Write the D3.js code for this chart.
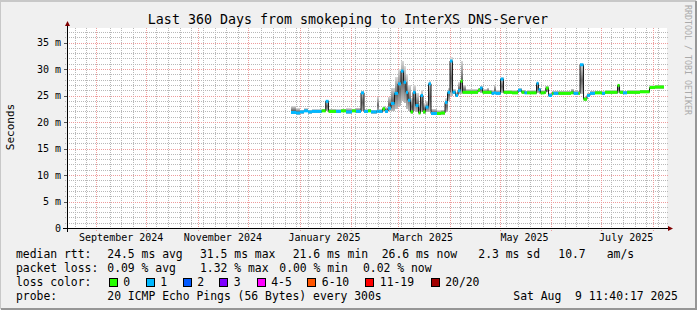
<!DOCTYPE html>
<html>
<head>
<meta charset="utf-8">
<script src="https://cdn.jsdelivr.net/npm/d3@7"></script>
<style>
  body { margin: 0; background: #f0f0f0; }
  svg { display: block; }
  text { font-family: "DejaVu Sans Mono", monospace; fill: #000; white-space: pre; }
</style>
</head>
<body>
<svg id="chart" width="697" height="310"></svg>
<script>
// step start times, days since 2025-01-01 UTC (each value holds until the next one)
const stepDays = [
  -5.1, -2.1, 0.3, 2.7, 5.1, 7.5, 13.3, 15.7, 17.4, 21.9, 24.9, 27.9, 31.5, 33.9, 36.9, 38.7, 41.1, 42.9, 46.2, 47.4, 49.8, 51.3, 53.1,
  54.9, 57.0, 59.1, 60.9, 62.4, 63.9, 65.1, 66.6, 68.1, 69.6, 71.4, 72.6, 74.1, 75.6, 77.4, 78.9, 82.5, 84.9,
  87.3, 88.8, 90.3, 91.8, 93.6, 95.1, 96.6, 97.8, 99.9, 107.1,
  108.3, 109.8, 112.5, 113.7, 115.2, 116.7, 117.9, 120.6, 122.4, 127.5,
  131.1, 133.2, 135.0, 136.5, 142.2, 143.4, 144.6, 147.0, 147.9, 149.4,
  151.5, 152.4, 155.4, 162.9, 164.4, 167.4, 168.3, 170.4, 172.5, 174.3,
  177.3, 181.5, 183.3, 190.8, 192.0, 194.1, 196.5, 204.3, 210.0, 213.3
];
const dataEndDay = 218.7;

// median rtt in ms
const medianMs = [
  21.8, 21.7, 21.9, 22.1, 21.9, 22.0, 22.1, 23.9, 22.0, 22.0, 22.1, 21.9, 22.1, 22.0, 25.5, 22.0, 22.1, 21.9, 22.0, 22.0, 22.5, 22.0, 22.6,
  23.5, 25.4, 27.2, 29.6, 27.5, 25.6, 24.1, 21.9, 25.6, 23.1, 21.7, 25.0, 21.9, 22.8, 27.2, 21.6, 21.6, 21.7,
  23.7, 25.6, 31.5, 25.6, 25.0, 25.9, 27.7, 25.6, 25.6, 26.0,
  26.4, 25.6, 25.6, 25.6, 25.4, 25.5, 25.4, 28.1, 25.6, 25.5,
  26.0, 25.6, 25.5, 25.5, 27.3, 26.1, 25.5, 25.6, 26.4, 25.0,
  25.4, 25.4, 25.4, 25.5, 25.4, 25.4, 30.8, 24.3, 25.0, 25.4,
  25.5, 25.4, 25.6, 26.9, 25.6, 25.5, 25.6, 25.7, 26.5, 26.6
];

// index into lossLabels / lossColors
const lossBucket = [
  1, 1, 1, 1, 1, 1, 0, 1, 0, 1, 0, 1, 0, 1, 1, 1, 0, 1, 1, 1, 0, 1, 1,
  1, 1, 1, 1, 1, 1, 1, 0, 1, 1, 0, 1, 0, 1, 1, 1, 0, 0,
  1, 1, 1, 1, 1, 1, 0, 0, 0, 0,
  1, 0, 0, 0, 1, 1, 1, 1, 0, 0,
  1, 0, 1, 0, 1, 1, 0, 0, 0, 1,
  0, 1, 0, 0, 1, 0, 1, 0, 1, 1,
  0, 1, 0, 0, 0, 1, 0, 0, 0, 0
];

// spread of the 20 pings (smoke), ms
const smokeLo = [
  21.5, 21.4, 21.6, 21.8, 21.6, 21.7, 21.8, 22.0, 21.7, 21.7, 21.8, 21.6, 21.8, 21.7, 22.0, 21.7, 21.8, 21.6, 21.8, 21.7, 22.0, 21.7, 22.0,
  22.0, 22.5, 23.0, 24.0, 23.5, 22.5, 22.0, 21.6, 22.0, 21.8, 21.5, 21.8, 21.6, 21.8, 22.0, 21.3, 21.3, 21.4,
  21.8, 24.0, 25.0, 25.2, 24.7, 25.2, 25.3, 25.3, 25.3, 25.6,
  25.5, 25.3, 25.3, 25.3, 25.1, 25.2, 25.1, 25.4, 25.3, 25.2,
  25.6, 25.3, 25.2, 25.2, 25.4, 25.3, 25.2, 25.3, 25.6, 24.7,
  25.1, 25.1, 25.1, 25.2, 25.1, 25.1, 25.3, 24.0, 24.7, 25.1,
  25.2, 25.1, 25.3, 25.5, 25.3, 25.2, 25.3, 25.4, 26.2, 26.3
];
const smokeHi = [
  23.0, 22.6, 22.3, 22.6, 22.3, 22.4, 22.5, 24.1, 22.5, 22.4, 22.5, 22.6, 22.5, 22.7, 25.8, 22.4, 22.5, 22.3, 24.8, 22.4, 23.0, 22.8, 24.8,
  26.5, 28.5, 30.0, 31.6, 30.5, 29.0, 27.0, 24.5, 27.0, 25.5, 23.5, 26.0, 23.5, 24.0, 27.8, 22.5, 22.2, 22.3,
  24.5, 26.5, 32.2, 26.2, 25.6, 27.5, 31.6, 27.0, 26.2, 26.4,
  26.8, 26.2, 26.5, 26.1, 26.0, 27.0, 26.0, 28.4, 26.0, 26.0,
  26.4, 26.1, 25.9, 26.0, 27.6, 26.5, 26.0, 26.8, 26.8, 25.5,
  25.9, 25.9, 25.9, 26.3, 25.9, 25.9, 31.0, 24.8, 25.5, 25.9,
  25.9, 25.8, 26.0, 27.2, 26.0, 25.9, 26.0, 26.1, 26.9, 27.0
];

const lossLabels = ['0', '1', '2', '3', '4-5', '6-10', '11-19', '20/20'];
const lossColors = ['#26ff00', '#00b8ff', '#0059ff', '#7e00ff', '#ff00ff', '#ff5500', '#ff0000', '#a10000'];

const yTicks = [0, 5, 10, 15, 20, 25, 30, 35];
const yTickLabels = ['0', '5 m', '10 m', '15 m', '20 m', '25 m', '30 m', '35 m'];
const monthLabels = ['September 2024', 'November 2024', 'January 2025', 'March 2025', 'May 2025', 'July 2025'];

const title = 'Last 360 Days from smokeping to InterXS DNS-Server';
const rttStats = ['24.5 ms avg', '31.5 ms max', '21.6 ms min', '26.6 ms now', '2.3 ms sd', '10.7', 'am/s'];
const lossStats = ['0.09 % avg', '1.32 % max', '0.00 % min', '0.02 % now'];
const probeText = '20 ICMP Echo Pings (56 Bytes) every 300s';
const stampText = 'Sat Aug  9 11:40:17 2025';

// ---- layout ----
const W = 697, H = 310;
const X0 = 67, X1 = 667, Y0 = 228, YTOP = 28;
const graphEnd = new Date(Date.UTC(2025, 7, 9, 11, 40, 17));
const graphStart = d3.utcDay.offset(graphEnd, -360);
const dayZero = Date.UTC(2025, 0, 1);
const toDate = d => new Date(dayZero + d * 864e5);

const svg = d3.select('#chart');

const x = d3.scaleUtc().domain([graphStart, graphEnd]).range([X0, X1]);
const y = d3.scaleLinear().domain([0, 35]).range([Y0, 42.5]);
const px = v => Math.round(v) + 0.5; // crisp 1px lines

// frame
svg.append('rect').attr('width', W).attr('height', H).attr('fill', '#f0f0f0');
svg.append('path').attr('d', `M0,${H - 1}V1H${W - 1}`).attr('stroke', '#c8c8c8').attr('stroke-width', 2).attr('fill', 'none');
svg.append('path').attr('d', `M1,${H - 1}H${W - 1}V1`).attr('stroke', '#969696').attr('stroke-width', 2).attr('fill', 'none');
svg.append('rect').attr('x', X0).attr('y', YTOP).attr('width', X1 - X0).attr('height', Y0 - YTOP).attr('fill', '#fff');

// grid
const grid = svg.append('g').attr('shape-rendering', 'crispEdges').attr('fill', 'none');
const minorColor = '#b8b8b8', majorColor = '#ee9c9c';

d3.range(1, 38).filter(v => v % 5 !== 0).forEach(v => {
  grid.append('line').attr('x1', X0 - 2).attr('x2', X1 + 1).attr('y1', px(y(v))).attr('y2', px(y(v)))
    .attr('stroke', minorColor).attr('stroke-dasharray', '1,1');
});
const monthStarts = d3.utcMonth.range(d3.utcMonth.ceil(graphStart), graphEnd);
const weekStarts = d3.utcMonday.range(graphStart, graphEnd)
  .filter(w => !monthStarts.some(m => Math.abs(x(m) - x(w)) < 2));
weekStarts.forEach(w => {
  grid.append('line').attr('x1', px(x(w))).attr('x2', px(x(w))).attr('y1', YTOP).attr('y2', Y0 + 2)
    .attr('stroke', minorColor).attr('stroke-dasharray', '1,1');
});
yTicks.filter(v => v > 0).forEach(v => {
  grid.append('line').attr('x1', X0 - 2).attr('x2', X1 + 1).attr('y1', px(y(v))).attr('y2', px(y(v)))
    .attr('stroke', majorColor).attr('stroke-dasharray', '1,1');
  grid.append('line').attr('x1', X0 - 3).attr('x2', X0).attr('y1', px(y(v))).attr('y2', px(y(v))).attr('stroke', '#555');
});
monthStarts.forEach(m => {
  grid.append('line').attr('x1', px(x(m))).attr('x2', px(x(m))).attr('y1', YTOP).attr('y2', Y0 + 3)
    .attr('stroke', majorColor).attr('stroke-dasharray', '1,1');
});

// smoke
const defs = svg.append('defs');
const grad = defs.append('linearGradient').attr('id', 'smoke').attr('x1', 0).attr('y1', 0).attr('x2', 0).attr('y2', 1);
grad.append('stop').attr('offset', '0%').attr('stop-color', '#dadada');
grad.append('stop').attr('offset', '55%').attr('stop-color', '#6a6a6a');
grad.append('stop').attr('offset', '100%').attr('stop-color', '#bdbdbd');

const stepEnd = i => i + 1 < stepDays.length ? stepDays[i + 1] : dataEndDay;
const steps = d3.range(stepDays.length);

svg.append('g').selectAll('rect').data(steps).join('rect')
  .attr('x', i => x(toDate(stepDays[i])))
  .attr('width', i => x(toDate(stepEnd(i))) - x(toDate(stepDays[i])))
  .attr('y', i => y(smokeHi[i]))
  .attr('height', i => y(smokeLo[i]) - y(smokeHi[i]))
  .attr('fill', 'url(#smoke)')
  .attr('shape-rendering', 'crispEdges');

// median line (black steps), then loss coloured tops
const pts = steps.map(i => [x(toDate(stepDays[i])), y(medianMs[i])]);
pts.push([x(toDate(dataEndDay)), y(medianMs[medianMs.length - 1])]);
svg.append('path')
  .attr('d', d3.line().curve(d3.curveStepAfter)(pts))
  .attr('fill', 'none').attr('stroke', '#1a1a1a').attr('stroke-width', 1);

svg.append('g').selectAll('line').data(steps).join('line')
  .attr('x1', i => x(toDate(stepDays[i])))
  .attr('x2', i => x(toDate(stepEnd(i))))
  .attr('y1', i => y(medianMs[i]))
  .attr('y2', i => y(medianMs[i]))
  .attr('stroke', i => lossColors[lossBucket[i]])
  .attr('stroke-width', 3);

// axes
const axis = svg.append('g').attr('shape-rendering', 'crispEdges');
axis.append('line').attr('x1', X0 - 4).attr('x2', X1 + 2).attr('y1', px(Y0)).attr('y2', px(Y0)).attr('stroke', '#000');
axis.append('line').attr('x1', px(X0)).attr('x2', px(X0)).attr('y1', Y0 + 4).attr('y2', 25).attr('stroke', '#000');
svg.append('path').attr('d', `M${X1 + 1},${Y0 - 2}L${X1 + 6},${Y0 + 0.5}L${X1 + 1},${Y0 + 3}Z`).attr('fill', '#7f0000');
svg.append('path').attr('d', `M${X0 - 2},26L${X0 + 0.5},21L${X0 + 3},26Z`).attr('fill', '#7f0000');

// y labels
svg.append('g').selectAll('text').data(yTicks).join('text')
  .attr('x', 61).attr('y', v => y(v) + 3.5)
  .attr('text-anchor', 'end').attr('font-size', 10)
  .text((v, i) => yTickLabels[i]);

// x labels (centred half a month after the month starts)
const parseMonth = d3.utcParse('%B %Y');
svg.append('g').selectAll('text').data(monthLabels).join('text')
  .attr('x', s => x(d3.utcDay.offset(parseMonth(s), 15)))
  .attr('y', 241).attr('text-anchor', 'middle').attr('font-size', 10)
  .text(s => s);

// title, axis title, watermark
svg.append('text').attr('x', 348).attr('y', 24).attr('text-anchor', 'middle').attr('font-size', 13.3).text(title);
svg.append('text').attr('transform', 'translate(14,127) rotate(-90)').attr('text-anchor', 'middle')
  .attr('font-size', 11).text('Seconds');
svg.append('text').attr('transform', 'translate(684.5,5) rotate(90)').attr('font-size', 8.3)
  .style('fill', '#aaa').text('RRDTOOL / TOBI OETIKER');

// legend
const lg = svg.append('g').attr('font-size', 11.4);
const rowY = [258, 272, 286, 300];
lg.append('text').attr('x', 16).attr('y', rowY[0]).text('median rtt:');
const rttX = [107.3, 200, 292.7, 381.7, 478.3, 558.3, 606.7];
rttStats.forEach((s, i) => lg.append('text').attr('x', rttX[i]).attr('y', rowY[0]).text(s));

lg.append('text').attr('x', 16).attr('y', rowY[1]).text('packet loss:');
const lossX = [107.3, 200, 279.3, 363];
lossStats.forEach((s, i) => lg.append('text').attr('x', lossX[i]).attr('y', rowY[1]).text(s));

lg.append('text').attr('x', 16).attr('y', rowY[2]).text('loss color:');
const boxX = [108.7, 145.7, 182.7, 219.3, 256.7, 307.3, 365.3, 430.7];
lossLabels.forEach((s, i) => {
  lg.append('rect').attr('x', Math.round(boxX[i]) + 0.5).attr('y', 278.5).attr('width', 8).attr('height', 8)
    .attr('fill', lossColors[i]).attr('stroke', '#000');
  lg.append('text').attr('x', boxX[i] + 14.5).attr('y', rowY[2]).text(s);
});

lg.append('text').attr('x', 16).attr('y', rowY[3]).text('probe:');
lg.append('text').attr('x', 107.3).attr('y', rowY[3]).text(probeText);
lg.append('text').attr('x', 513.3).attr('y', rowY[3]).text(stampText);
</script>
</body>
</html>
